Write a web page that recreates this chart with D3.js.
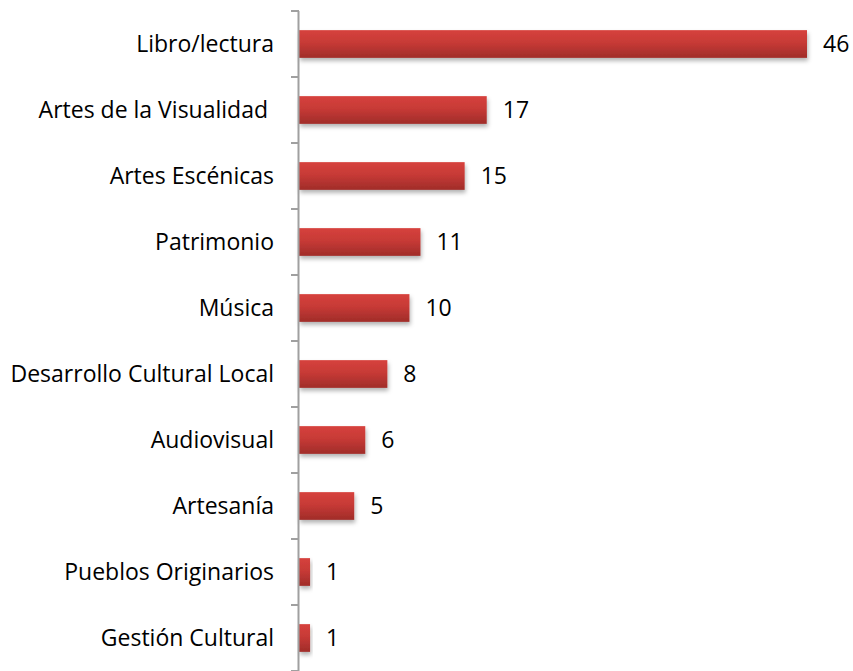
<!DOCTYPE html>
<html>
<head>
<meta charset="utf-8">
<script src="https://cdn.jsdelivr.net/npm/d3@7"></script>
<style>
  body { margin: 0; background: #fff; }
  text { font-family: "Open Sans", Lato, sans-serif; fill: #000; }
</style>
</head>
<body>
<div id="chart"></div>
<script>
  'use strict';

  // data
  var categories = [
    'Libro/lectura',
    'Artes de la Visualidad ',
    'Artes Escénicas',
    'Patrimonio',
    'Música',
    'Desarrollo Cultural Local',
    'Audiovisual',
    'Artesanía',
    'Pueblos Originarios',
    'Gestión Cultural'
  ];
  var values = [46, 17, 15, 11, 10, 8, 6, 5, 1, 1];

  var width = 853;
  var height = 671;
  var margins = { top: 11, right: 46, bottom: 0, left: 299 };
  var fontSize = '23px';

  var svg = d3.select('#chart').append('svg')
    .attr('width', width)
    .attr('height', height);

  var defs = svg.append('defs');
  var grad = defs.append('linearGradient')
    .attr('id', 'barGrad')
    .attr('x1', 0).attr('y1', 0).attr('x2', 0).attr('y2', 1);
  grad.append('stop').attr('offset', '0%').attr('stop-color', '#d6413d');
  grad.append('stop').attr('offset', '45%').attr('stop-color', '#c73a36');
  grad.append('stop').attr('offset', '100%').attr('stop-color', '#a02c29');

  var shadow = defs.append('filter')
    .attr('id', 'shadow')
    .attr('x', '-10%').attr('y', '-20%')
    .attr('width', '130%').attr('height', '160%');
  shadow.append('feDropShadow')
    .attr('dx', 1).attr('dy', 3)
    .attr('stdDeviation', 2)
    .attr('flood-color', '#000')
    .attr('flood-opacity', 0.3);

  var x = d3.scaleLinear()
    .domain([0, 46])
    .range([margins.left, 807]);

  var y = d3.scaleBand()
    .domain(categories)
    .range([margins.top, height - margins.bottom])
    .paddingInner(0.58)
    .paddingOuter(0.29);

  // bars
  svg.append('g').selectAll('rect')
    .data(values)
    .enter()
    .append('rect')
      .attr('x', x(0))
      .attr('y', function (d, i) { return y(categories[i]); })
      .attr('width', function (d) { return x(d) - x(0); })
      .attr('height', y.bandwidth())
      .attr('fill', 'url(#barGrad)')
      .attr('filter', 'url(#shadow)');

  // value labels
  svg.append('g').selectAll('text')
    .data(values)
    .enter()
    .append('text')
      .attr('x', function (d) { return x(d) + 16; })
      .attr('y', function (d, i) { return y(categories[i]) + y.bandwidth() / 2; })
      .attr('dy', '0.35em')
      .style('font-size', fontSize)
      .text(function (d) { return d; });

  // axis with ticks at category boundaries
  var boundaries = d3.range(categories.length + 1).map(function (i) {
    return margins.top + i * (height - margins.top - margins.bottom) / categories.length;
  });

  var axis = svg.append('g').attr('class', 'axis');
  axis.append('line')
    .attr('x1', x(0) - 0.5).attr('x2', x(0) - 0.5)
    .attr('y1', margins.top).attr('y2', height)
    .attr('stroke', '#a0a0a0')
    .attr('stroke-width', 2);
  axis.selectAll('line.tick')
    .data(boundaries)
    .enter()
    .append('line')
      .attr('class', 'tick')
      .attr('x1', x(0) - 8).attr('x2', x(0))
      .attr('y1', function (d) { return d; })
      .attr('y2', function (d) { return d; })
      .attr('stroke', '#a0a0a0')
      .attr('stroke-width', 2);

  axis.selectAll('text')
    .data(categories)
    .enter()
    .append('text')
      .attr('x', x(0) - 25)
      .attr('y', function (d) { return y(d) + y.bandwidth() / 2; })
      .attr('dy', '0.35em')
      .attr('text-anchor', 'end')
      .style('font-size', fontSize)
      .style('white-space', 'pre')
      .text(function (d) { return d; });
</script>
</body>
</html>
